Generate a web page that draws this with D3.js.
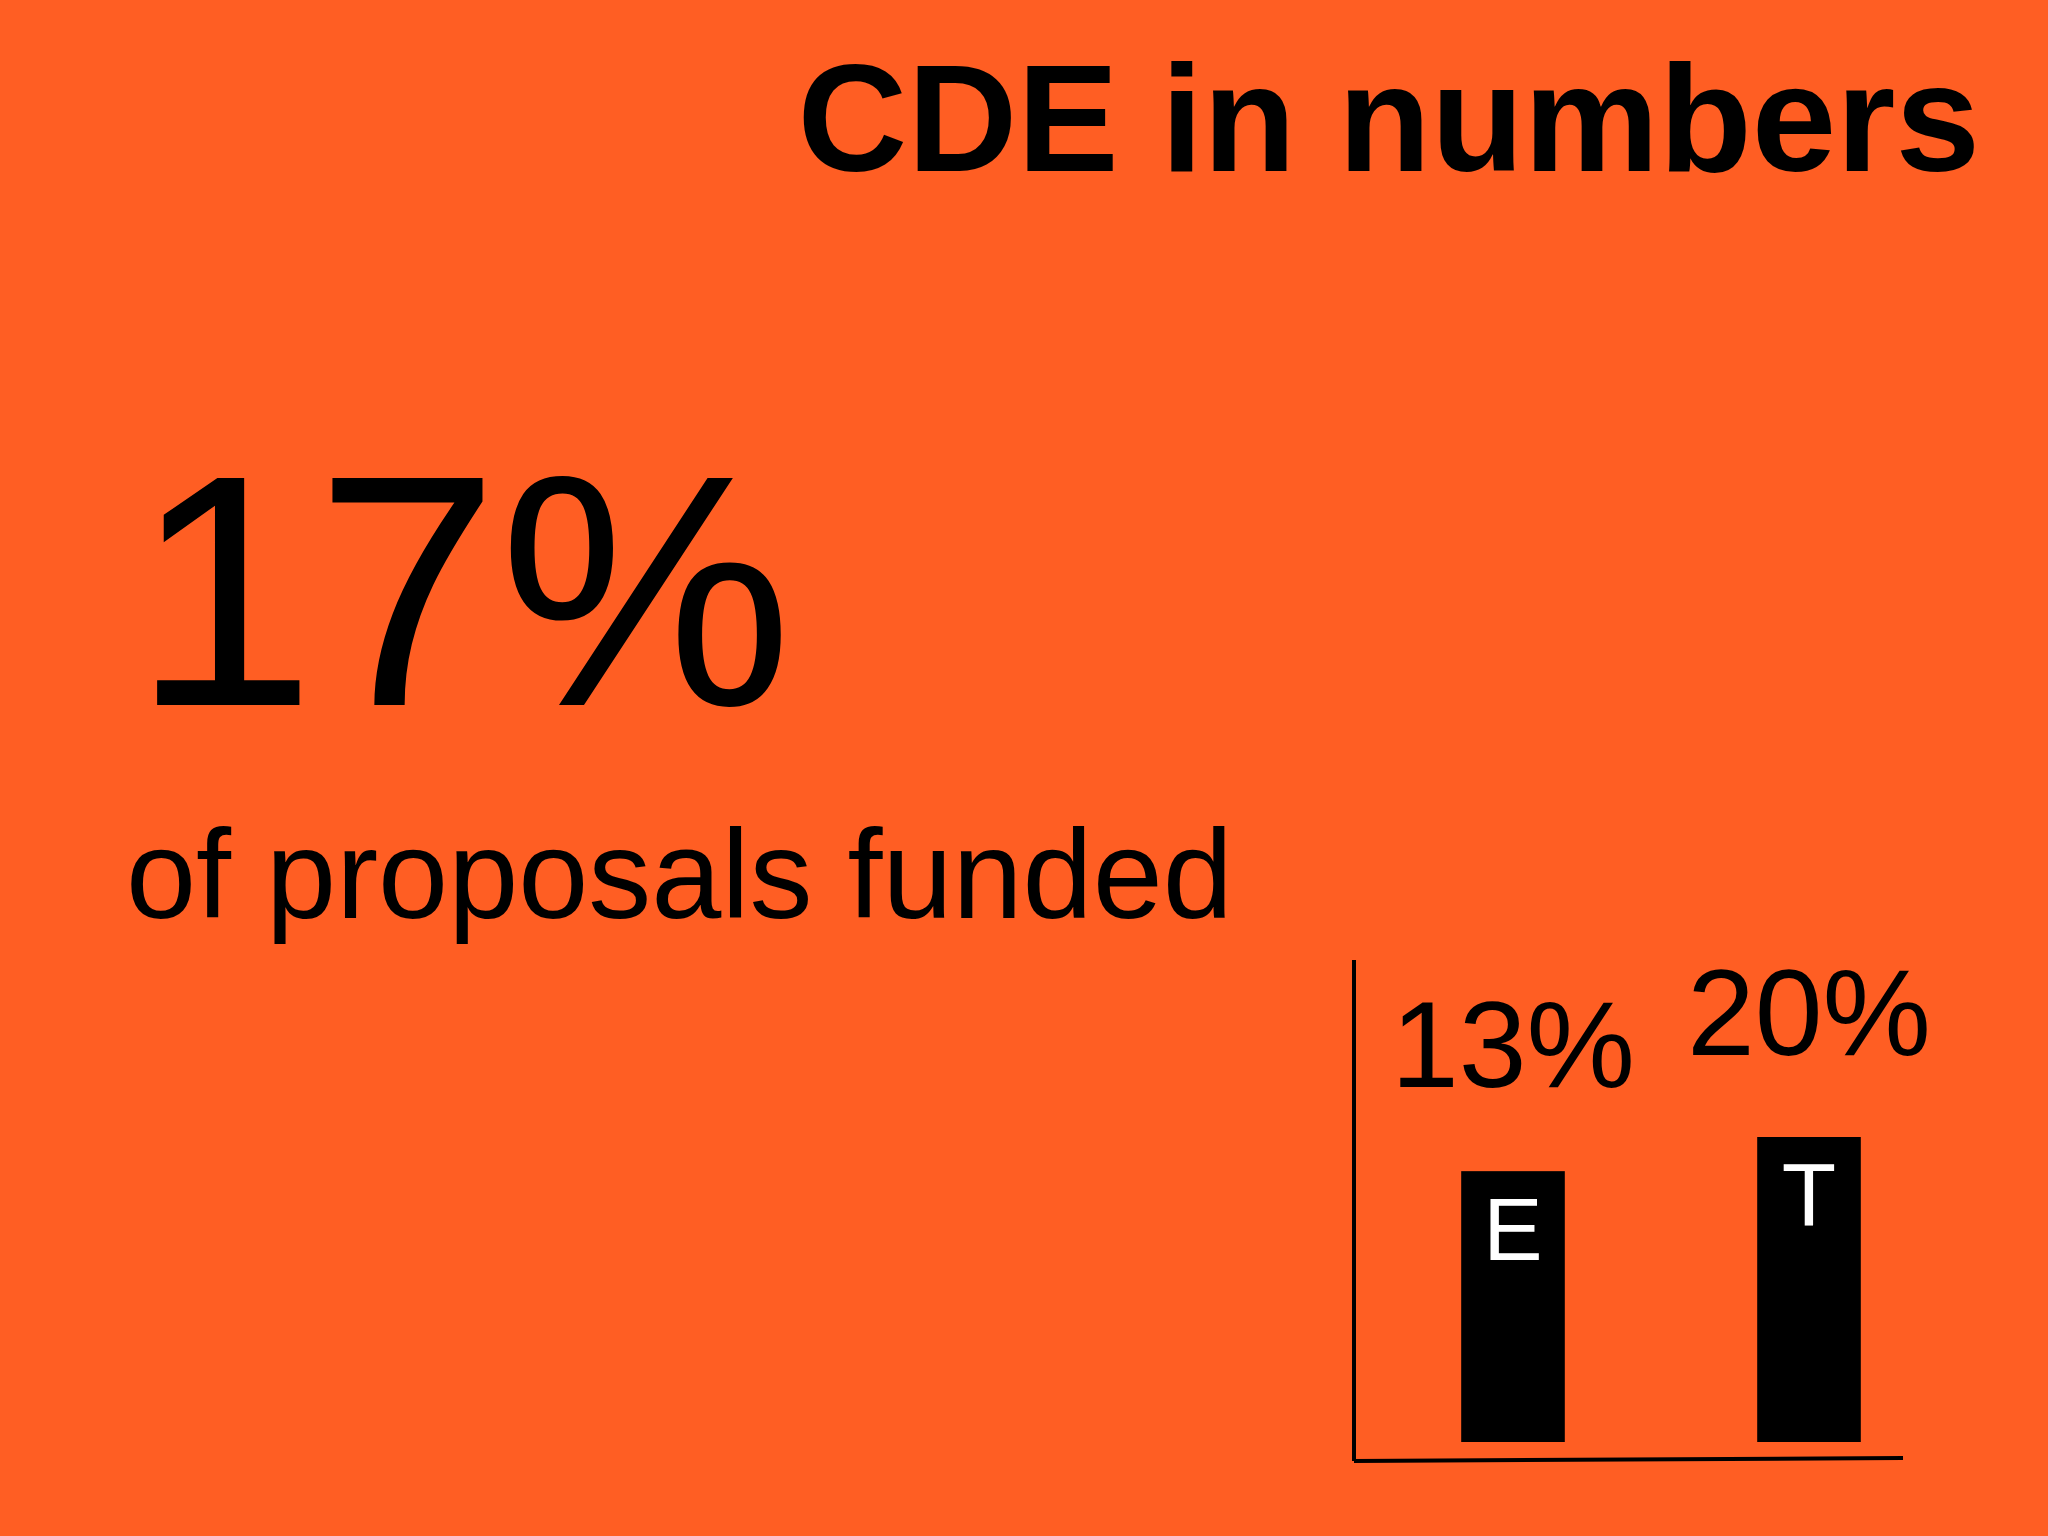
<!DOCTYPE html><html><head><meta charset="utf-8"><script src="https://d3js.org/d3.v7.min.js"></script>
<style>body{margin:0;background:#FF5E23}svg{display:block}text{font-family:"Liberation Sans",Arial,sans-serif}</style></head><body>
<script>
const categories=["E","T"];
const values=[13,20];
const valueLabels=["13%","20%"];
const W=2048,H=1536;
const svg=d3.select("body").append("svg").attr("width",W).attr("height",H);
svg.append("rect").attr("width",W).attr("height",H).attr("fill","#FF5E23");
svg.append("text").attr("x",1980).attr("y",171).attr("text-anchor","end").attr("font-weight","bold").attr("font-size",152).text("CDE in numbers");
svg.append("text").attr("x",132).attr("y",705).attr("font-size",330).text("17%");
svg.append("text").attr("x",126).attr("y",918).attr("font-size",126).text("of proposals funded");
const x=d3.scaleBand().domain(categories).range([1402,1920]).paddingInner(0.65).paddingOuter(0.2);
const y=d3.scaleLinear().domain([-42.5,20]).range([1442,1137]);
svg.selectAll("rect.bar").data(values).join("rect").attr("class","bar")
 .attr("x",(d,i)=>x(categories[i])).attr("width",x.bandwidth()).attr("y",d=>y(d)).attr("height",d=>1442-y(d)).attr("fill","#000");
svg.selectAll("text.cat").data(categories).join("text").attr("class","cat")
 .attr("x",d=>x(d)+x.bandwidth()/2).attr("y",(d,i)=>y(values[i])+89).attr("text-anchor","middle").attr("fill","#fff").attr("font-size",89).text(d=>d);
svg.selectAll("text.val").data(valueLabels).join("text").attr("class","val")
 .attr("x",(d,i)=>x(categories[i])+x.bandwidth()/2).attr("y",(d,i)=>[1087,1055][i]).attr("text-anchor","middle").attr("font-size",122).text(d=>d);
svg.append("line").attr("x1",1354).attr("x2",1354).attr("y1",960).attr("y2",1461).attr("stroke","#000").attr("stroke-width",4);
svg.append("line").attr("x1",1354).attr("x2",1903).attr("y1",1461).attr("y2",1458).attr("stroke","#000").attr("stroke-width",4);
</script></body></html>
